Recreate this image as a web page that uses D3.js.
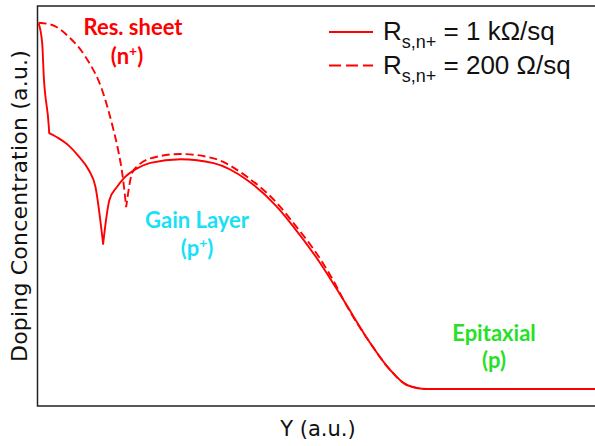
<!DOCTYPE html>
<html>
<head>
<meta charset="utf-8">
<script src="https://cdn.jsdelivr.net/npm/d3@7"></script>
<style>
  body { margin: 0; background: #fff; }
  svg { display: block; }
</style>
</head>
<body>
<div id="chart"></div>
<script>
// doping profile, arbitrary units (depth 0-100, concentration 0-100)
const depthSolid = [0.2, 0.84, 1.13, 2.03, 2.1, 3.82, 5.61, 7.4, 9.19, 10.39, 11.77, 12.9, 14.28, 15.47, 17.87, 20.25, 25.63, 31.6, 37.58, 42.96, 45.93, 50.72, 54.89, 59.68, 63.26, 66.26, 69.84, 100];
const concSolid = [95.7, 90.7, 82.3, 69.8, 68.2, 66.9, 65.1, 62.4, 59.0, 54.8, 40.5, 51.5, 54.8, 56.9, 59.4, 60.8, 61.7, 60.7, 56.5, 49.8, 44.8, 35.7, 26.5, 15.75, 9.0, 5.25, 4.25, 4.25];

const depthDashed = [0.2, 2.63, 5.61, 8.6, 11.59, 13.49, 14.46, 15.29, 15.9, 16.97, 18.15, 20.25, 25.63, 31.6, 37.58, 42.96, 45.93, 50.72, 53.4, 54.89, 59.68, 63.26, 66.26, 69.84, 100];
const concDashed = [95.8, 95.25, 92.3, 87.3, 79.0, 69.8, 64.0, 57.3, 49.7, 58.2, 60.25, 61.9, 63.0, 61.9, 57.3, 50.7, 45.7, 36.75, 30.5, 26.5, 15.75, 9.0, 5.25, 4.25, 4.25];

// sharp corners (junction kink / dips) split the profiles into smooth pieces
const breaksSolid = [0, 4, 10, 27];
const breaksDashed = [0, 8, 24];

const seriesNames = ['1 k\u03A9/sq', '200 \u03A9/sq'];

const width = 595, height = 446;
const margin = { top: 6, right: 0, bottom: 40, left: 37.5 };

const svg = d3.select('#chart')
    .append('svg')
    .attr('width', width)
    .attr('height', height);

svg.append('rect').attr('width', width).attr('height', height).attr('fill', '#fff');

const x = d3.scaleLinear().domain([0, 100]).range([margin.left, width - margin.right]);
const y = d3.scaleLinear().domain([0, 100]).range([height - margin.bottom, margin.top]);

// frame (right side falls off the page)
svg.append('rect')
    .attr('x', x(0))
    .attr('y', y(100))
    .attr('width', x(100) - x(0) + 10)
    .attr('height', y(0) - y(100))
    .attr('fill', 'none')
    .attr('stroke', '#222')
    .attr('stroke-width', 1.5);

const line = d3.line()
    .x((d) => x(d[0]))
    .y((d) => y(d[1]))
    .curve(d3.curveMonotoneX);

// join smooth pieces into one path string
const piecewise = (pts, breaks) => {
    let d = '';
    for (let i = 0; i < breaks.length - 1; i++) {
        const seg = line(pts.slice(breaks[i], breaks[i + 1] + 1));
        d += i === 0 ? seg : seg.replace(/^M[^CLZ]*/, '');
    }
    return d;
};

const solid = d3.zip(depthSolid, concSolid);
const dashed = d3.zip(depthDashed, concDashed);

svg.append('path')
    .attr('d', piecewise(dashed, breaksDashed))
    .attr('fill', 'none')
    .attr('stroke', '#ff0000')
    .attr('stroke-width', 1.9)
    .attr('stroke-dasharray', '8,4');

svg.append('path')
    .attr('d', piecewise(solid, breaksSolid))
    .attr('fill', 'none')
    .attr('stroke', '#ff0000')
    .attr('stroke-width', 1.9)
    .attr('stroke-linejoin', 'round');

// axis titles
svg.append('text')
    .attr('x', 318)
    .attr('y', 436)
    .attr('text-anchor', 'middle')
    .style('font-family', 'DejaVu Sans')
    .style('font-size', '21px')
    .attr('fill', '#111')
    .text('Y (a.u.)');

svg.append('text')
    .attr('transform', 'translate(27, 206) rotate(-90)')
    .attr('text-anchor', 'middle')
    .style('font-family', 'DejaVu Sans')
    .style('font-size', '22px')
    .style('letter-spacing', '0.2px')
    .attr('fill', '#111')
    .text('Doping Concentration (a.u.)');

// legend
const legend = svg.append('g');
seriesNames.forEach((name, i) => {
    const ly = 32 + i * 33.5;
    legend.append('line')
        .attr('x1', 329).attr('x2', 373)
        .attr('y1', ly).attr('y2', ly)
        .attr('stroke', '#ff0000')
        .attr('stroke-width', 2)
        .attr('stroke-dasharray', i === 1 ? '12,5' : null);
    const t = legend.append('text')
        .attr('x', 383)
        .attr('y', ly + 8)
        .style('font-family', 'Liberation Sans')
        .style('font-size', '26px')
        .attr('fill', '#111');
    t.append('tspan').text('R');
    t.append('tspan').attr('dy', 8).style('font-size', '18px').text('s,n+');
    t.append('tspan').attr('dy', -8).text(' = ' + name);
});

// region annotations
const notes = [
    { lines: ['Res. sheet', '(n', '+', ')'], cx: 133, cx2: 127, y0: 35, y1: 64, color: '#ff0000' },
    { lines: ['Gain Layer', '(p', '+', ')'], cx: 197, cx2: 197, y0: 228, y1: 256, color: '#19e0f5' },
    { lines: ['Epitaxial', '(p', '', ')'], cx: 494, cx2: 494, y0: 341, y1: 368, color: '#27e027' }
];
notes.forEach((n) => {
    const g = svg.append('g')
        .style('font-family', 'Lato')
        .style('font-weight', 'bold')
        .style('font-size', '22px')
        .attr('fill', n.color)
        .attr('text-anchor', 'middle');
    g.append('text').attr('x', n.cx).attr('y', n.y0).text(n.lines[0]);
    const t = g.append('text').attr('x', n.cx2).attr('y', n.y1);
    t.append('tspan').text(n.lines[1]);
    if (n.lines[2]) {
        t.append('tspan').attr('dy', -8).style('font-size', '14px').text(n.lines[2]);
        t.append('tspan').attr('dy', 8).text(n.lines[3]);
    } else {
        t.append('tspan').text(n.lines[3]);
    }
});
</script>
</body>
</html>
